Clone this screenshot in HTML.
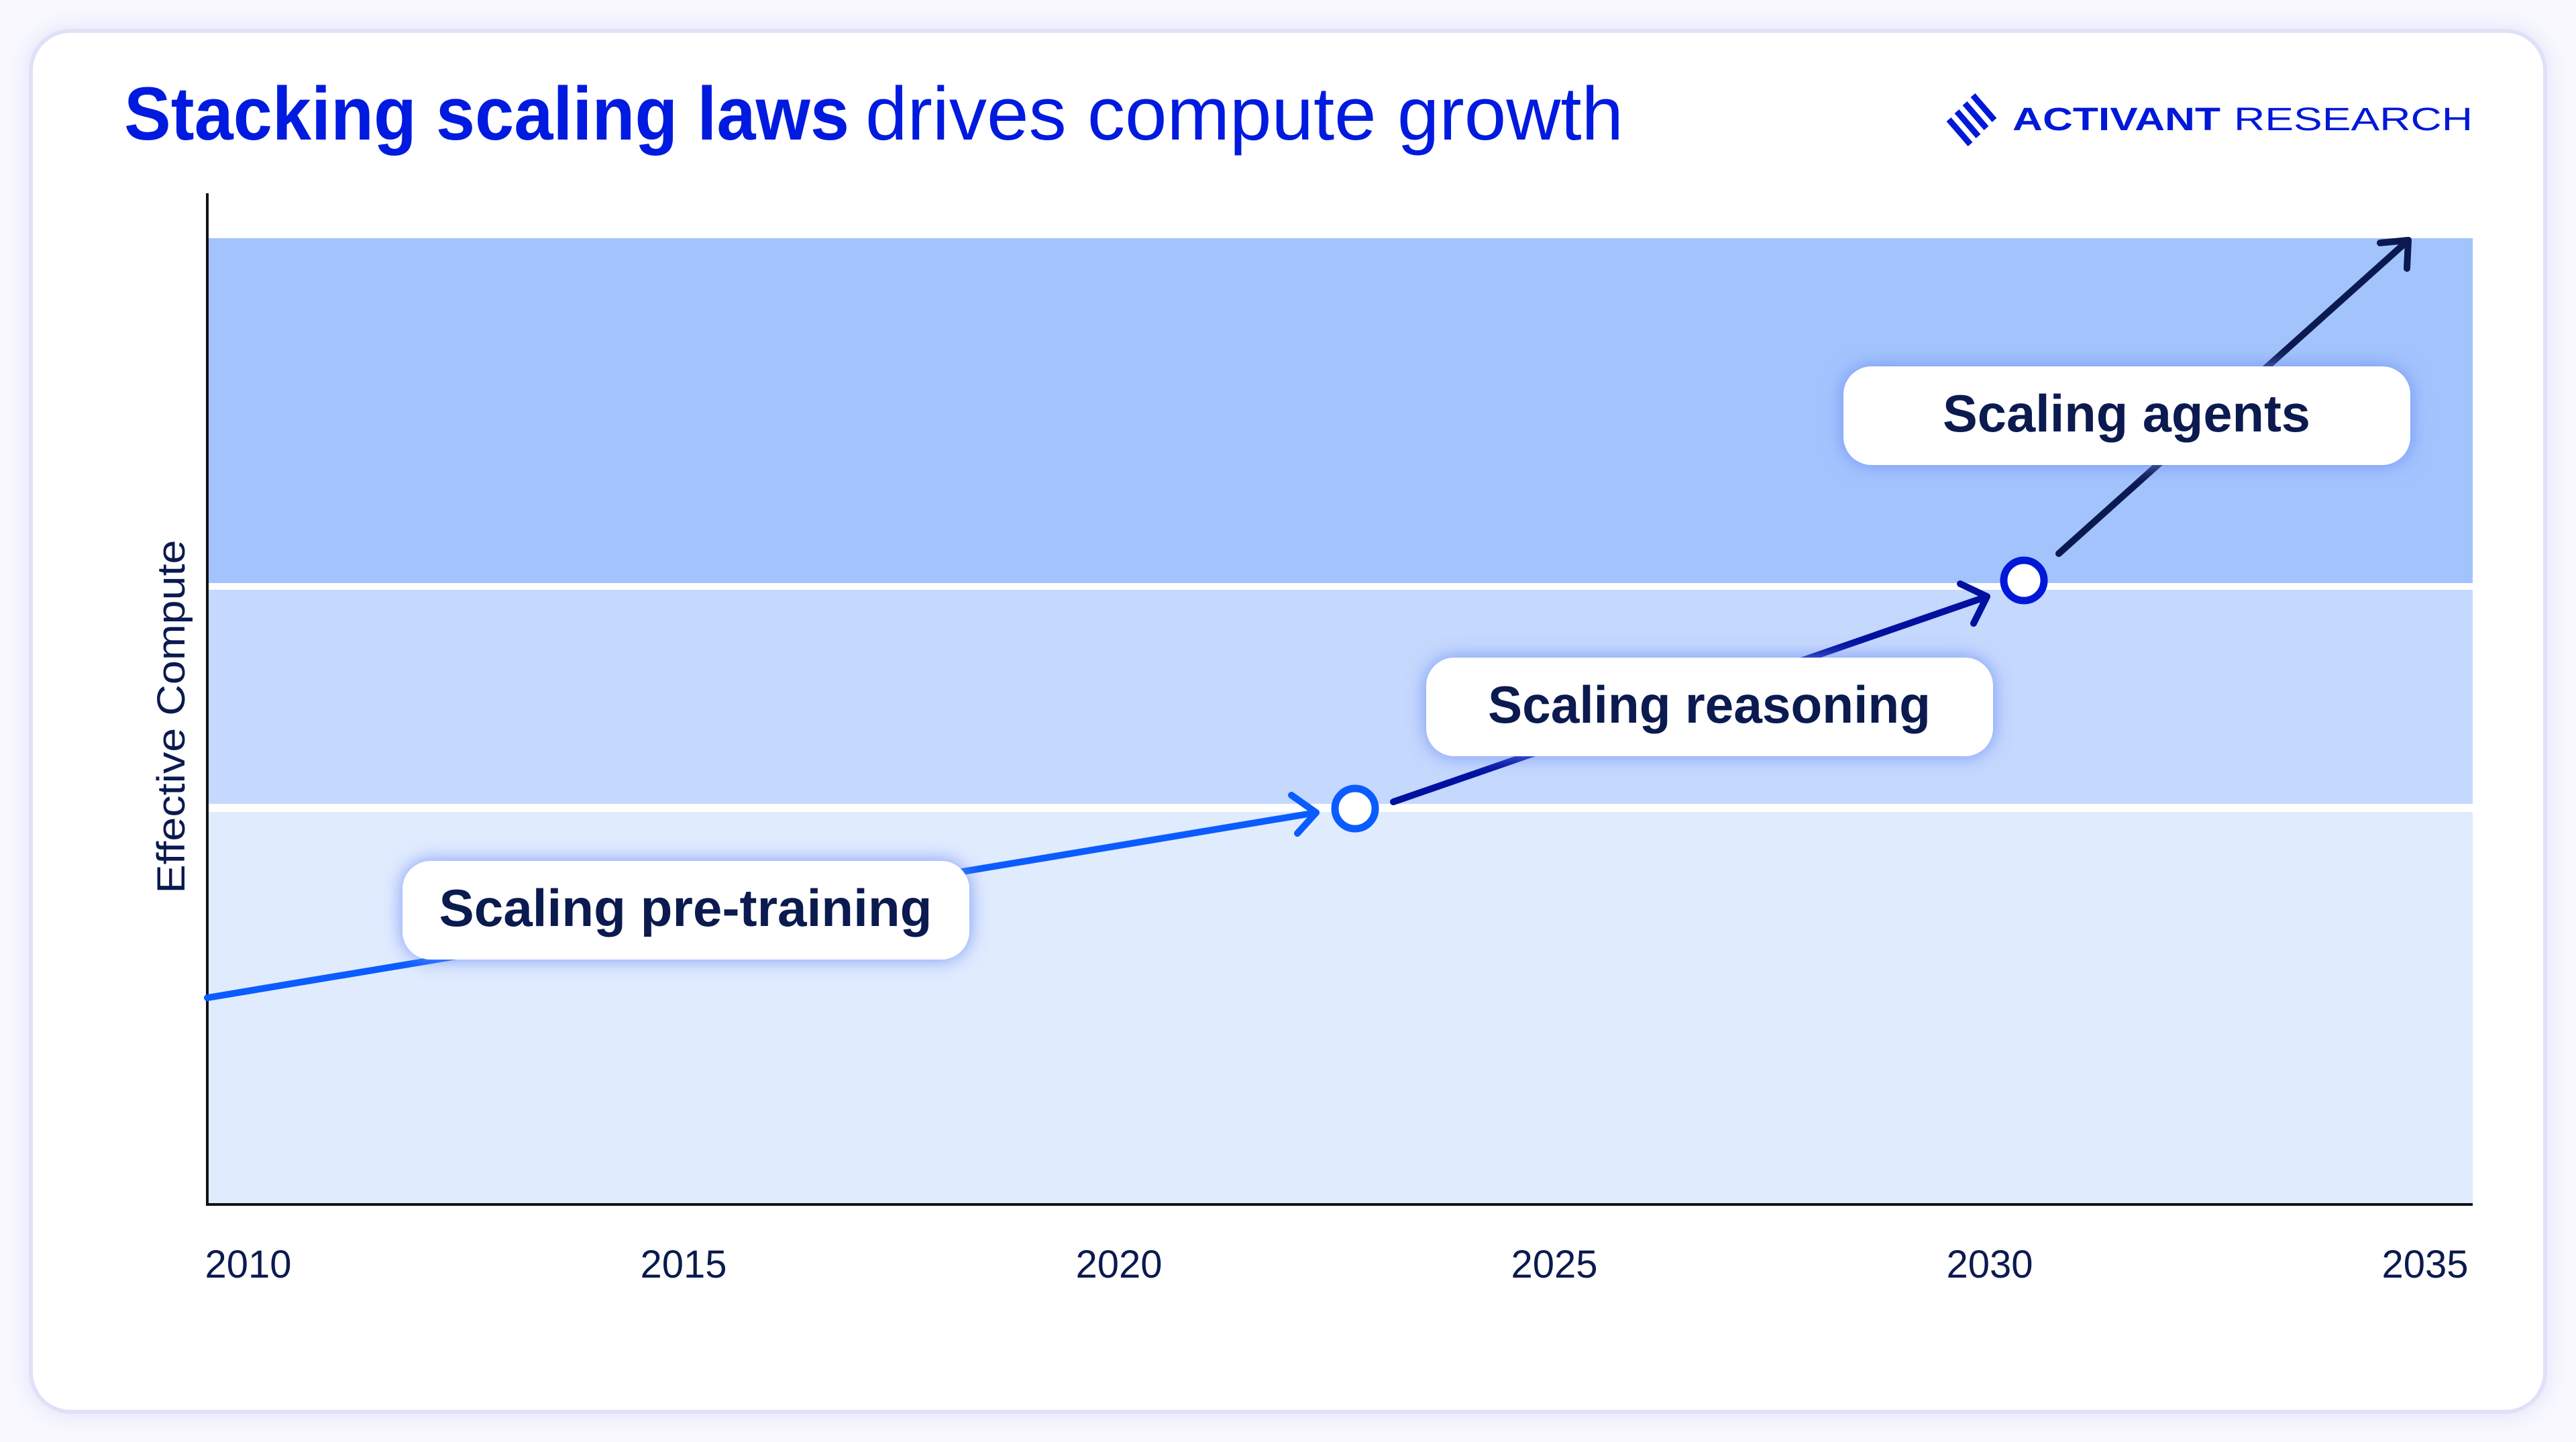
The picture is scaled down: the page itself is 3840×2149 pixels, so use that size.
<!DOCTYPE html>
<html><head><meta charset="utf-8"><style>
html,body{margin:0;padding:0;width:3840px;height:2149px;background:#f8f8fe;overflow:hidden;}
.card{position:absolute;left:49px;top:49px;width:3742px;height:2052px;background:#fff;border-radius:56px;box-shadow:0 0 0 6px #dfe1f8,0 0 24px 14px #e9eafb;}
svg{position:absolute;left:0;top:0;}
</style></head><body>
<div class="card"></div>
<svg width="3840" height="2149" viewBox="0 0 3840 2149" xmlns="http://www.w3.org/2000/svg">
<defs>
<filter id="glow" x="-20%" y="-50%" width="140%" height="200%">
<feGaussianBlur in="SourceAlpha" stdDeviation="16"/>
<feFlood flood-color="#6f8ff5" flood-opacity="0.9"/>
<feComposite operator="in" in2="SourceAlpha"/>
<feGaussianBlur stdDeviation="14"/>
<feMerge><feMergeNode/><feMergeNode in="SourceGraphic"/></feMerge>
</filter>
</defs>
<text x="185" y="208" font-family="Liberation Sans, sans-serif" font-weight="bold" font-size="112" fill="#001adf" textLength="1081" lengthAdjust="spacingAndGlyphs">Stacking scaling laws</text>
<text x="1290" y="208" font-family="Liberation Sans, sans-serif" font-size="112" fill="#001adf" textLength="1130" lengthAdjust="spacingAndGlyphs">drives compute growth</text>
<g stroke="#0018d8" stroke-width="9" stroke-linecap="butt">
<line x1="2905" y1="178" x2="2937" y2="215"/>
<line x1="2917" y1="166" x2="2949" y2="203"/>
<line x1="2929" y1="154" x2="2961" y2="191"/>
<line x1="2941" y1="142" x2="2973" y2="179"/>
</g>
<text x="3000" y="194" font-family="Liberation Sans, sans-serif" font-weight="bold" font-size="48" fill="#0018d8" textLength="310" lengthAdjust="spacingAndGlyphs">ACTIVANT</text>
<text x="3330" y="194" font-family="Liberation Sans, sans-serif" font-size="48" fill="#0018d8" textLength="356" lengthAdjust="spacingAndGlyphs">RESEARCH</text>
<rect x="309" y="355" width="3377" height="514" fill="#a3c3fd"/>
<rect x="309" y="879" width="3377" height="319" fill="#c5d8fd"/>
<rect x="309" y="1210" width="3377" height="585" fill="#e0ebfe"/>
<line x1="309" y1="288" x2="309" y2="1796" stroke="#111" stroke-width="4"/>
<line x1="307" y1="1795" x2="3686" y2="1795" stroke="#111" stroke-width="4"/>
<g font-family="Liberation Sans, sans-serif" font-size="58" fill="#0b1a4f" text-anchor="middle">
<text x="370" y="1904">2010</text>
<text x="1019" y="1904">2015</text>
<text x="1668" y="1904">2020</text>
<text x="2317" y="1904">2025</text>
<text x="2966" y="1904">2030</text>
<text x="3615" y="1904">2035</text>
<text transform="translate(275,1068) rotate(-90)" textLength="527" lengthAdjust="spacingAndGlyphs">Effective Compute</text>
</g>
<g fill="none" stroke-width="10" stroke-linecap="round" stroke-linejoin="round">
<line x1="309" y1="1487" x2="1962" y2="1211" stroke="#0a5cff"/>
<polyline points="1925,1185 1962,1211 1934,1242" stroke="#0a5cff"/>
<line x1="2077" y1="1195" x2="2962" y2="889" stroke="#0010a0"/>
<polyline points="2922,870 2962,889 2942,929" stroke="#0010a0"/>
<line x1="3069" y1="825" x2="3590" y2="358" stroke="#0a1a50"/>
<polyline points="3548,362 3590,358 3588,400" stroke="#0a1a50"/>
</g>
<circle cx="2020" cy="1205" r="30" fill="#fff" stroke="#0a5cff" stroke-width="11"/>
<circle cx="3017" cy="865" r="30" fill="#fff" stroke="#0018d8" stroke-width="11"/>
<g filter="url(#glow)">
<rect x="600" y="1283" width="845" height="147" rx="42" fill="#fff"/>
<rect x="2126" y="980" width="845" height="147" rx="42" fill="#fff"/>
<rect x="2748" y="546" width="845" height="147" rx="42" fill="#fff"/>
</g>
<g font-family="Liberation Sans, sans-serif" font-weight="bold" font-size="78" fill="#0b1a4f" text-anchor="middle">
<text x="1022" y="1380" textLength="735" lengthAdjust="spacingAndGlyphs">Scaling pre-training</text>
<text x="2548" y="1077" textLength="660" lengthAdjust="spacingAndGlyphs">Scaling reasoning</text>
<text x="3170" y="643" textLength="548" lengthAdjust="spacingAndGlyphs">Scaling agents</text>
</g>
</svg>
</body></html>
